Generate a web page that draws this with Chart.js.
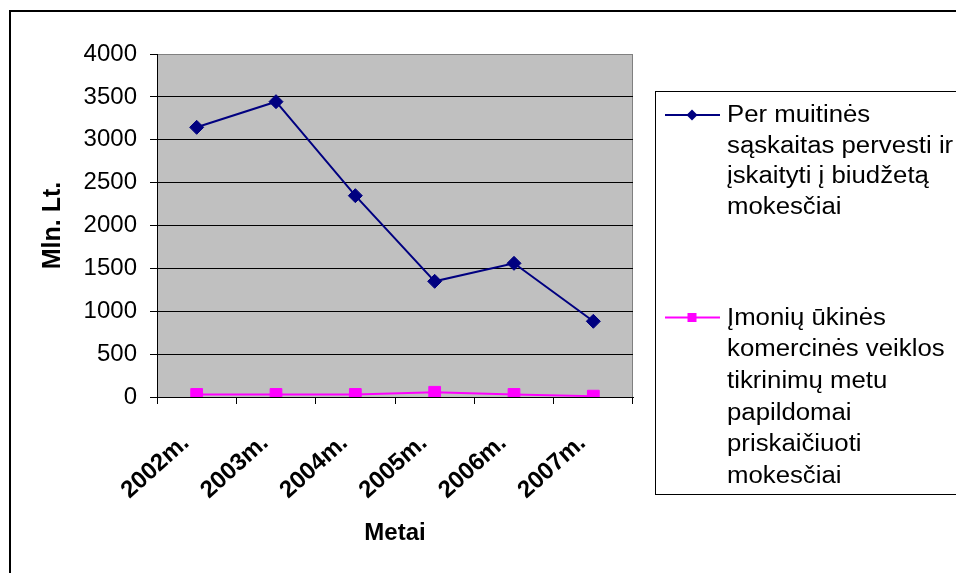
<!DOCTYPE html>
<html lang="lt">
<head>
<meta charset="utf-8">
<title>Mokesčiai 2002–2007 m.</title>
<script src="https://cdn.jsdelivr.net/npm/chart.js@4/dist/chart.umd.min.js"></script>
<style>
  html, body { margin: 0; padding: 0; background: #fff; }
  #wrap { width: 956px; height: 573px; position: relative; overflow: hidden; }
</style>
</head>
<body>
<div id="wrap"><canvas id="chart" width="956" height="573"></canvas></div>
<script>
// Metai (x ašies kategorijos)
const years = ['2002m.', '2003m.', '2004m.', '2005m.', '2006m.', '2007m.'];

// Per muitinės sąskaitas pervesti ir įskaityti į biudžetą mokesčiai, mln. Lt
const customsTaxes = [3145, 3444, 2348, 1349, 1559, 883];

// Įmonių ūkinės komercinės veiklos tikrinimų metu papildomai priskaičiuoti mokesčiai, mln. Lt
const auditTaxes = [30, 30, 30, 55, 30, 10];

// Legendos tekstas, suskaidytas eilutėmis
const legendCustoms = ['Per muitinės', 'sąskaitas pervesti ir', 'įskaityti į biudžetą', 'mokesčiai'];
const legendAudit = ['Įmonių ūkinės', 'komercinės veiklos', 'tikrinimų metu', 'papildomai', 'priskaičiuoti', 'mokesčiai'];

const FONT = "'Liberation Sans', Arial, Helvetica, sans-serif";
const NAVY = '#000080';
const MAGENTA = '#FF00FF';

// Pilkas braižymo plotas, išorinis rėmelis ir legenda
const decor = {
  id: 'decor',
  beforeDraw(chart) {
    const { ctx, chartArea: a } = chart;
    ctx.save();
    ctx.fillStyle = '#ffffff';
    ctx.fillRect(0, 0, chart.width, chart.height);
    ctx.fillStyle = '#C0C0C0';
    ctx.fillRect(a.left, a.top, a.right - a.left, a.bottom - a.top);
    ctx.strokeStyle = '#808080';
    ctx.lineWidth = 1;
    ctx.strokeRect(a.left + 0.5, a.top + 0.5, a.right - a.left - 1, a.bottom - a.top);
    ctx.restore();
  },
  afterDraw(chart) {
    const ctx = chart.ctx;
    ctx.save();
    // išorinis rėmelis
    ctx.strokeStyle = '#000';
    ctx.lineWidth = 2;
    ctx.strokeRect(10, 11, 1000, 1000);

    // legendos rėmelis
    ctx.lineWidth = 1;
    ctx.strokeRect(655.5, 91.5, 400, 403);

    const drawEntry = (lines, color, y0, step, marker) => {
      ctx.strokeStyle = color;
      ctx.lineWidth = 2;
      ctx.beginPath();
      ctx.moveTo(665, y0);
      ctx.lineTo(720, y0);
      ctx.stroke();
      ctx.fillStyle = color;
      ctx.beginPath();
      if (marker === 'diamond') {
        ctx.moveTo(692, y0 - 5.5);
        ctx.lineTo(697.5, y0);
        ctx.lineTo(692, y0 + 5.5);
        ctx.lineTo(686.5, y0);
        ctx.closePath();
      } else {
        ctx.rect(687.5, y0 - 4.5, 9, 9);
      }
      ctx.fill();
      ctx.fillStyle = '#000';
      ctx.font = '23px ' + FONT;
      ctx.textBaseline = 'alphabetic';
      ctx.textAlign = 'left';
      lines.forEach((t, i) => {
        ctx.save();
        ctx.translate(727, y0 + 7 + i * step);
        ctx.scale(1.12, 1);
        ctx.fillText(t, 0, 0);
        ctx.restore();
      });
    };
    drawEntry(legendCustoms, NAVY, 115, 30.5, 'diamond');
    drawEntry(legendAudit, MAGENTA, 317.5, 31.7, 'square');
    ctx.restore();
  }
};

new Chart(document.getElementById('chart'), {
  type: 'line',
  data: {
    labels: years,
    datasets: [
      {
        label: legendCustoms.join(' '),
        data: customsTaxes,
        borderColor: NAVY,
        backgroundColor: NAVY,
        borderWidth: 2,
        pointStyle: 'rectRot',
        pointRadius: 7,
        pointBorderWidth: 1,
        tension: 0
      },
      {
        label: legendAudit.join(' '),
        data: auditTaxes,
        borderColor: MAGENTA,
        backgroundColor: MAGENTA,
        borderWidth: 2,
        pointStyle: 'rect',
        pointRadius: 8.3,
        pointBorderWidth: 1,
        tension: 0
      }
    ]
  },
  options: {
    responsive: false,
    animation: false,
    layout: { padding: { left: 0, top: 54, right: 323, bottom: 0 } },
    plugins: {
      legend: { display: false },
      tooltip: { enabled: false }
    },
    scales: {
      x: {
        type: 'category',
        offset: true,
        afterFit(scale) { scale.height = 176; },
        border: { color: '#000', width: 1 },
        grid: {
          offset: true,
          drawOnChartArea: false,
          drawTicks: true,
          tickLength: 7,
          tickColor: '#000'
        },
        ticks: {
          color: '#000',
          font: { family: FONT, size: 24, weight: 'bold' },
          minRotation: 42,
          maxRotation: 42,
          autoSkip: false,
          labelOffset: -11,
          padding: 25
        },
        title: {
          display: true,
          text: 'Metai',
          color: '#000',
          font: { family: FONT, size: 24, weight: 'bold' },
          padding: { top: 0, bottom: 25 }
        }
      },
      y: {
        min: 0,
        max: 4000,
        afterFit(scale) { scale.width = 157; },
        border: { color: '#000', width: 1 },
        grid: {
          color: (c) => (c.tick && c.tick.value === 4000 ? '#808080' : '#000'),
          lineWidth: 1,
          drawTicks: true,
          tickLength: 7,
          tickColor: '#000'
        },
        ticks: {
          stepSize: 500,
          color: '#000',
          font: { family: FONT, size: 24 },
          padding: 13,
          callback: (v) => String(v)
        },
        title: {
          display: true,
          text: 'Mln. Lt.',
          color: '#000',
          font: { family: FONT, size: 25, weight: 'bold' },
          padding: { top: 38, bottom: 0 }
        }
      }
    }
  },
  plugins: [decor]
});
</script>
</body>
</html>
